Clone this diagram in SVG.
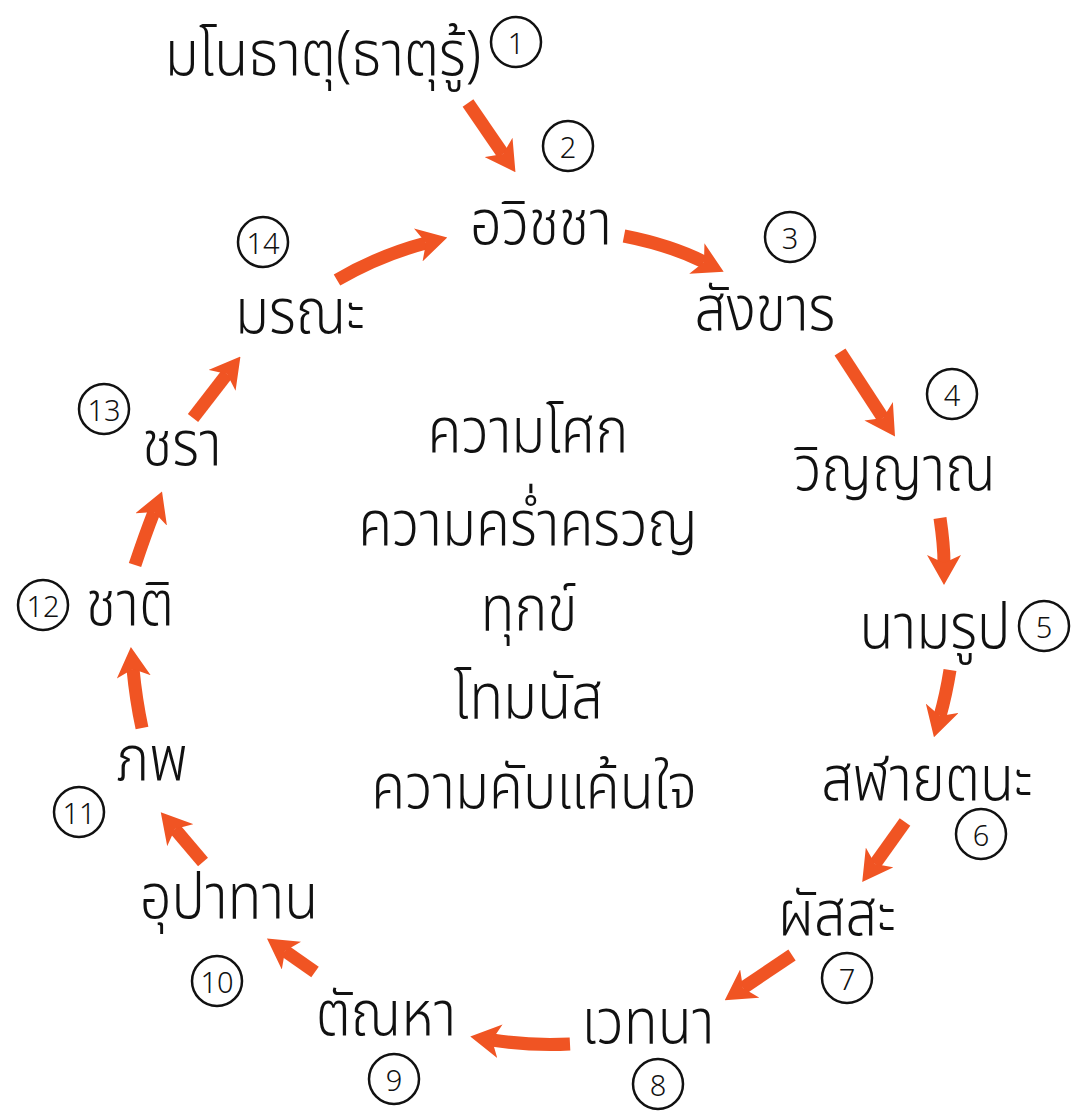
<svg xmlns="http://www.w3.org/2000/svg" width="1072" height="1112" viewBox="0 0 1072 1112">
<style>
.t{font-family:"Noto Sans Thai","Noto Sans","DejaVu Sans",sans-serif;font-size:62px;font-weight:300;fill:#111;text-anchor:middle}
.n circle{fill:none;stroke:#111;stroke-width:2.5}
.n text{font-family:"Noto Sans","DejaVu Sans",sans-serif;font-size:29px;font-weight:300;fill:#111;text-anchor:middle;dominant-baseline:central}
.a{fill:none;stroke:#F05423;stroke-width:13}
</style>
<defs>
<marker id="h" viewBox="0 0 30 34" refX="8" refY="17" markerWidth="30" markerHeight="34" markerUnits="userSpaceOnUse" orient="auto">
<path d="M0,0 L30,17 L0,34 L8,17 Z" fill="#F05423"/>
</marker>
</defs>
<rect width="1072" height="1112" fill="#fff"/>
<g id="connectors">
<path class="a" marker-end="url(#h)" d="M468,103 L503,154"/>
<path class="a" marker-end="url(#h)" d="M624,236 Q670,245 704,262"/>
<path class="a" marker-end="url(#h)" d="M840,352 L883,418"/>
<path class="a" marker-end="url(#h)" d="M940,518 Q944,545 944,563"/>
<path class="a" marker-end="url(#h)" d="M950,670 Q946,695 940,716"/>
<path class="a" marker-end="url(#h)" d="M905,822 L875,864"/>
<path class="a" marker-end="url(#h)" d="M792,955 L743,988"/>
<path class="a" marker-end="url(#h)" d="M570,1044 Q530,1046 492,1040"/>
<path class="a" marker-end="url(#h)" d="M315,972 L285,951"/>
<path class="a" marker-end="url(#h)" d="M203,862 L175,829"/>
<path class="a" marker-end="url(#h)" d="M142,728 Q136,700 133,669"/>
<path class="a" marker-end="url(#h)" d="M135,565 Q145,535 154,512"/>
<path class="a" marker-end="url(#h)" d="M193,418 L227,374"/>
<path class="a" marker-end="url(#h)" d="M337,280 Q380,255 426,243"/>
</g>
<g id="node1"><text class="t" x="323" y="75" transform="matrix(0.9,0,0,1,32.3,0)">มโนธาตุ(ธาตุรู้)</text><g class="n"><circle cx="516" cy="42" r="25"/><text x="516" y="42">1</text></g></g>
<g id="node2"><text class="t" x="541" y="244" transform="matrix(0.9,0,0,1,54.1,0)">อวิชชา</text><g class="n"><circle cx="568" cy="146" r="25"/><text x="568" y="146">2</text></g></g>
<g id="node3"><text class="t" x="765" y="330" transform="matrix(0.9,0,0,1,76.5,0)">สังขาร</text><g class="n"><circle cx="790" cy="237" r="25"/><text x="790" y="237">3</text></g></g>
<g id="node4"><text class="t" x="895" y="490" transform="matrix(0.9,0,0,1,89.5,0)">วิญญาณ</text><g class="n"><circle cx="952" cy="394" r="25"/><text x="952" y="394">4</text></g></g>
<g id="node5"><text class="t" x="935" y="648" transform="matrix(0.9,0,0,1,93.5,0)">นามรูป</text><g class="n"><circle cx="1044" cy="626" r="25"/><text x="1044" y="626">5</text></g></g>
<g id="node6"><text class="t" x="927" y="800" transform="matrix(0.9,0,0,1,92.7,0)">สฬายตนะ</text><g class="n"><circle cx="981" cy="834" r="25"/><text x="981" y="834">6</text></g></g>
<g id="node7"><text class="t" x="837" y="935" transform="matrix(0.9,0,0,1,83.7,0)">ผัสสะ</text><g class="n"><circle cx="847" cy="978" r="25"/><text x="847" y="978">7</text></g></g>
<g id="node8"><text class="t" x="648" y="1043" transform="matrix(0.9,0,0,1,64.8,0)">เวทนา</text><g class="n"><circle cx="658" cy="1084" r="25"/><text x="658" y="1084">8</text></g></g>
<g id="node9"><text class="t" x="386" y="1035" transform="matrix(0.9,0,0,1,38.6,0)">ตัณหา</text><g class="n"><circle cx="394" cy="1079" r="25"/><text x="394" y="1079">9</text></g></g>
<g id="node10"><text class="t" x="229" y="918" transform="matrix(0.9,0,0,1,22.9,0)">อุปาทาน</text><g class="n"><circle cx="217" cy="981" r="25"/><text x="217" y="981">10</text></g></g>
<g id="node11"><text class="t" x="152" y="780" transform="matrix(0.9,0,0,1,15.2,0)">ภพ</text><g class="n"><circle cx="79" cy="812" r="25"/><text x="79" y="812">11</text></g></g>
<g id="node12"><text class="t" x="130" y="625" transform="matrix(0.9,0,0,1,13,0)">ชาติ</text><g class="n"><circle cx="43" cy="605" r="25"/><text x="43" y="605">12</text></g></g>
<g id="node13"><text class="t" x="182" y="465" transform="matrix(0.9,0,0,1,18.2,0)">ชรา</text><g class="n"><circle cx="104" cy="409" r="25"/><text x="104" y="409">13</text></g></g>
<g id="node14"><text class="t" x="300" y="333" transform="matrix(0.9,0,0,1,30,0)">มรณะ</text><g class="n"><circle cx="263" cy="242" r="25"/><text x="263" y="242">14</text></g></g>
<g id="center">
<text class="t" x="528" y="452" transform="matrix(0.9,0,0,1,52.8,0)">ความโศก</text>
<text class="t" x="528" y="545" transform="matrix(0.9,0,0,1,52.8,0)">ความคร่ำครวญ</text>
<text class="t" x="529" y="630" transform="matrix(0.9,0,0,1,52.9,0)">ทุกข์</text>
<text class="t" x="528" y="718" transform="matrix(0.9,0,0,1,52.8,0)">โทมนัส</text>
<text class="t" x="534" y="808" transform="matrix(0.9,0,0,1,53.4,0)">ความคับแค้นใจ</text>
</g>
</svg>
